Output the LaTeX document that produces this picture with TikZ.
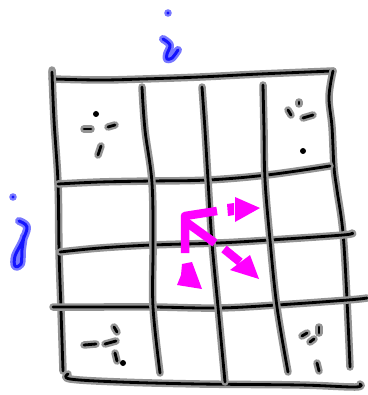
\documentclass[tikz,border=0pt]{standalone}
\definecolor{mg}{RGB}{255,0,255}
\definecolor{bl}{RGB}{20,20,255}
\definecolor{blh}{RGB}{120,120,255}
\tikzset{
  halo/.style={line width=7.5pt, color=black!42, line cap=round, line join=round},
  ink/.style={line width=2.8pt, color=black, line cap=round, line join=round},
  bhalo/.style={line width=8pt, color=blh, line cap=round, line join=round},
  bink/.style={line width=3pt, color=bl, line cap=round, line join=round},
  magbar/.style={line width=8.5pt, color=mg, line join=round},
  maghead/.style={fill=mg, draw=none}
}
\newcommand\skline[1]{%
  \draw[halo] plot[smooth,tension=0.6] coordinates {#1};
  \draw[ink] plot[smooth,tension=0.6] coordinates {#1};}
\newcommand\bline[1]{%
  \draw[bhalo] plot[smooth,tension=0.6] coordinates {#1};
  \draw[bink] plot[smooth,tension=0.6] coordinates {#1};}
\newcommand\inkdot[1]{\fill #1 circle (3pt);}
\begin{document}
\begin{tikzpicture}[x=1pt,y=-1pt]
\useasboundingbox (0,0) rectangle (367,395);
% grid
\skline{(52,70) (53,82)}
\skline{(52,79) (100,80) (143,79) (200,77) (260,74) (333,71)}
\skline{(52,72) (54,120) (58,183) (59,250) (61,310) (63,371)}
\skline{(333,71) (329,97) (332,127) (334,167) (337,190) (343,233) (347,300) (350,367)}
\skline{(68,374) (70,379) (120,382) (200,384) (300,385) (355,387) (360,384)}
\skline{(58,184) (100,182) (152,181) (208,180) (267,175) (330,166)}
\skline{(60,252) (100,248) (152,245) (218,243) (270,240) (343,235) (352,233)}
\skline{(53,307) (100,307) (153,307) (218,308) (277,305) (348,300) (367,298)}
\skline{(142,87) (145,130) (152,183) (153,247) (153,307) (160,373)}
\skline{(202,87) (205,130) (208,180) (212,243) (218,307) (225,382)}
\skline{(263,85) (264,130) (265,180) (270,240) (277,307) (288,372)}
% top-left cell
\inkdot{(96,114)}
\skline{(84,129) (91,129)}
\skline{(108,127) (115,125)}
\skline{(101,146) (98,155)}
% top-right cell
\skline{(288,110) (291,115)}
\skline{(299,102) (299,104)}
\skline{(303,118) (313,115)}
\inkdot{(303,151)}
% bottom-left cell
\skline{(84,345) (96,344)}
\skline{(105,344) (116,341)}
\skline{(114,327) (117,332)}
\skline{(115,353) (117,361)}
\inkdot{(123,363)}
% bottom-right cell
\skline{(302,336) (307,333)}
\skline{(319,327) (319,333)}
\skline{(310,342) (314,339)}
\skline{(317,363) (319,371)}
% labels i and j
\fill[blh] (168,13) circle (3.8pt);
\fill[bl] (168,13) circle (1.7pt);
\bline{(163,39) (170,45) (167,54) (167,59) (172,58) (178,50)}
\fill[blh] (13,197) circle (3.8pt);
\fill[bl] (13,197) circle (1.7pt);
\bline{(19,221) (27,227) (22,242) (15,256) (15,266) (21,264) (22,250) (24,236)}
% magenta arrows
\draw[magbar] (185,253) -- (185,216) -- (217,211);
\draw[magbar] (186,222) -- (215,243);
\fill[maghead] (227,204) -- (234,203) -- (234,215) -- (228,216) -- cycle;
\fill[maghead] (235,197) -- (260,208) -- (235,222) -- cycle;
\draw[magbar] (224,249) -- (240,262);
\fill[maghead] (230,270) -- (250,255) -- (259,279) -- cycle;
\fill[maghead] (182,264) -- (192,262) -- (202,289) -- (177,285) -- (181,275) -- cycle;
\end{tikzpicture}
\end{document}
